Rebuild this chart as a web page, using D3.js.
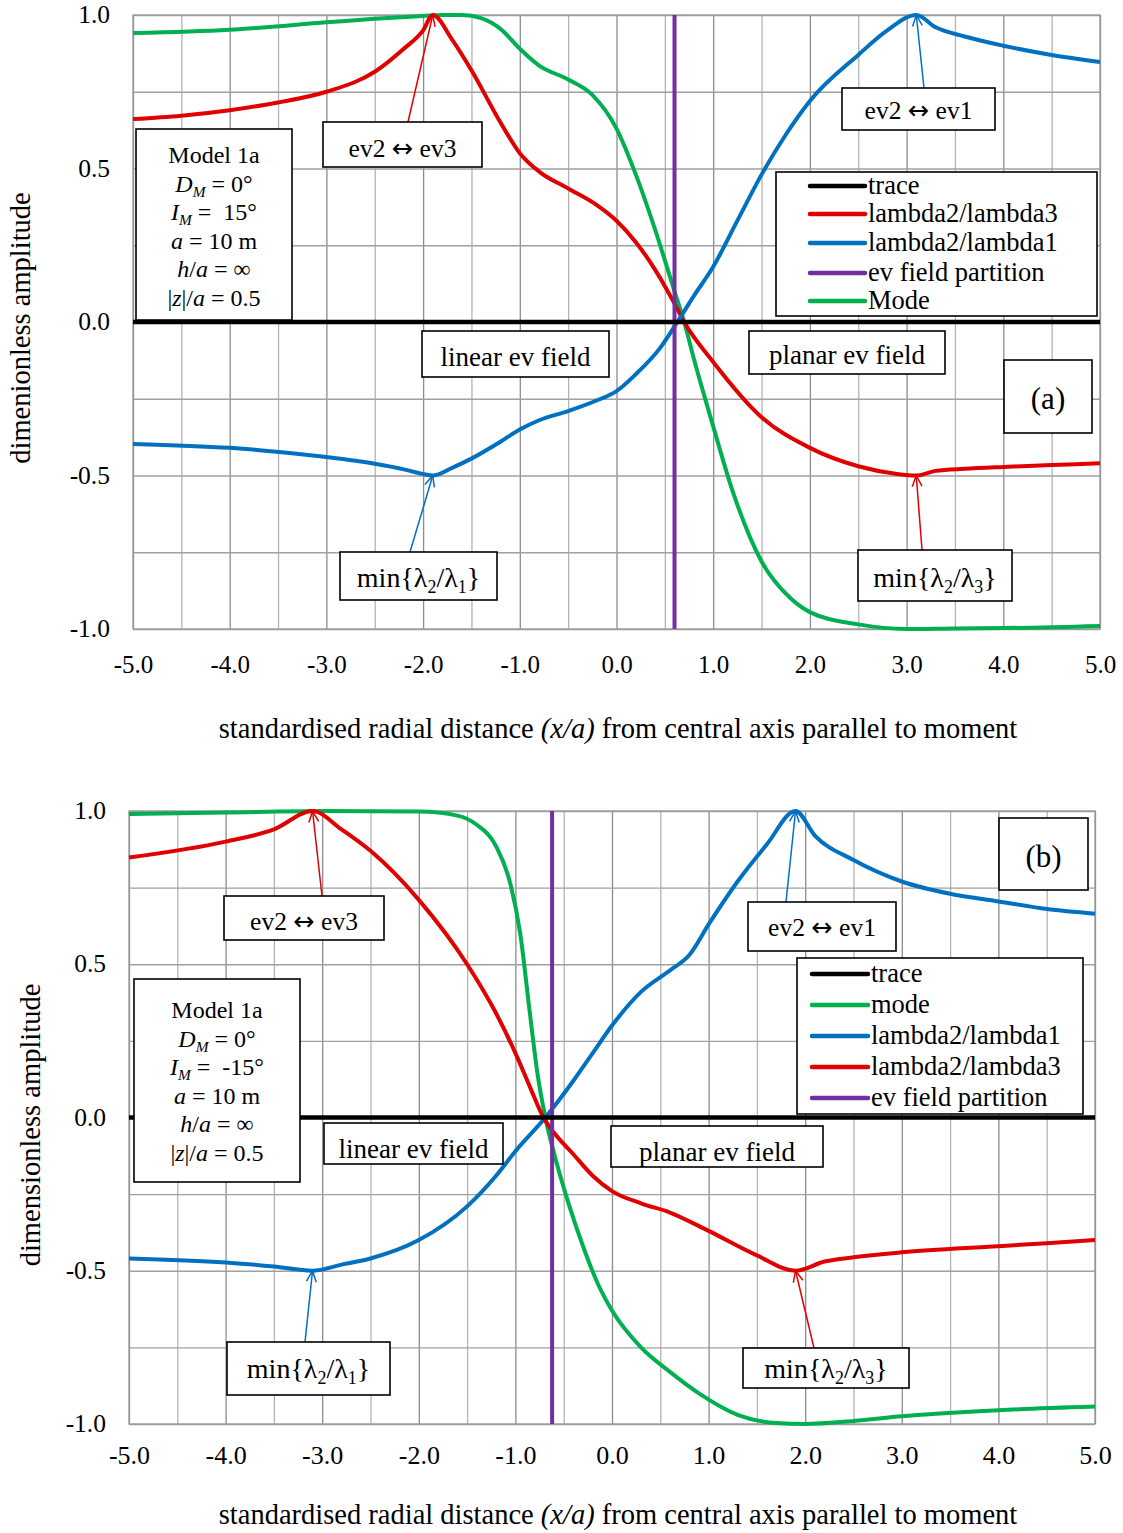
<!DOCTYPE html>
<html>
<head>
<meta charset="utf-8">
<script src="https://cdn.jsdelivr.net/npm/d3@7"></script>
<style>
  body { margin: 0; background: #fff; }
  svg { display: block; }
  text { font-family: "Liberation Serif", "Times New Roman", serif; fill: #000; }
</style>
</head>
<body>
<svg id="chart" width="1123" height="1533"></svg>
<script>
// ---- axis ticks ----
const xTickValues = [-5, -4, -3, -2, -1, 0, 1, 2, 3, 4, 5];
const yTickValues = [-1, -0.5, 0, 0.5, 1];

// ---- panel (a): I_M = 15° ----
const traceA = [[-5, 0], [5, 0]];
const lambda23A = [[-5,0.661],[-4.5,0.672],[-4,0.69],[-3.5,0.715],[-3,0.75],[-2.5,0.815],[-2.2,0.89],[-2.0,0.95],[-1.9,1.0],
  [-1.7,0.92],[-1.5,0.82],[-1.2,0.65],[-1.0,0.55],[-0.8,0.49],[-0.5,0.435],[-0.2,0.38],[0,0.33],[0.2,0.26],[0.4,0.17],
  [0.6,0.06],[0.7,0.0],[1.0,-0.13],[1.5,-0.31],[2.0,-0.41],[2.5,-0.47],[2.9,-0.495],[3.1,-0.5],[3.3,-0.485],[3.6,-0.478],
  [4,-0.472],[4.5,-0.466],[5,-0.46]];
const lambda21A = [[-5,-0.397],[-4,-0.41],[-3,-0.44],[-2.5,-0.462],[-2.2,-0.48],[-2.0,-0.495],[-1.9,-0.5],[-1.7,-0.475],
  [-1.5,-0.445],[-1.2,-0.39],[-1.0,-0.35],[-0.8,-0.32],[-0.5,-0.29],[-0.2,-0.255],[0,-0.225],[0.2,-0.17],[0.45,-0.085],
  [0.63,0.0],[0.8,0.085],[1.0,0.18],[1.25,0.33],[1.5,0.48],[1.75,0.61],[2.0,0.72],[2.5,0.87],[2.8,0.95],[3.1,1.0],
  [3.3,0.96],[3.6,0.93],[4.0,0.9],[4.5,0.87],[5.0,0.847]];
const modeA = [[-5,0.941],[-4,0.952],[-3,0.976],[-2.5,0.988],[-2,0.997],[-1.8,1.0],[-1.6,1.0],[-1.4,0.99],[-1.2,0.955],
  [-1.0,0.89],[-0.8,0.835],[-0.5,0.79],[-0.25,0.74],[0,0.63],[0.2,0.48],[0.4,0.30],[0.6,0.10],[0.7,0.0],[0.8,-0.12],
  [1.0,-0.34],[1.2,-0.55],[1.5,-0.78],[1.8,-0.9],[2.0,-0.945],[2.5,-0.985],[3.0,-1.0],[3.5,-0.998],[4.0,-0.997],[5.0,-0.99]];
const partitionA = 0.6;

// ---- panel (b): I_M = -15° ----
const traceB = [[-5, 0], [5, 0]];
const modeB = [[-5,0.99],[-4,0.995],[-3,1.0],[-2,0.998],[-1.6,0.985],[-1.4,0.955],[-1.2,0.885],[-1.05,0.76],[-0.95,0.6],
  [-0.85,0.34],[-0.77,0.14],[-0.69,0.0],[-0.58,-0.14],[-0.45,-0.28],[-0.3,-0.42],[-0.15,-0.54],[0,-0.63],[0.3,-0.75],
  [0.6,-0.83],[0.9,-0.9],[1.3,-0.97],[1.7,-0.997],[2.0,-1.0],[2.5,-0.99],[3,-0.975],[4,-0.955],[5,-0.943]];
const lambda21B = [[-5,-0.46],[-4,-0.473],[-3.5,-0.486],[-3.1,-0.5],[-2.8,-0.48],[-2.5,-0.46],[-2,-0.40],[-1.5,-0.29],
  [-1.2,-0.19],[-1.0,-0.11],[-0.69,0.0],[-0.4,0.12],[-0.2,0.21],[0,0.3],[0.3,0.41],[0.6,0.48],[0.8,0.53],
  [1.0,0.63],[1.3,0.77],[1.6,0.89],[1.9,1.0],[2.1,0.92],[2.5,0.84],[3,0.77],[3.5,0.73],[4,0.705],[4.5,0.68],[5,0.665]];
const lambda23B = [[-5,0.848],[-4,0.9],[-3.5,0.94],[-3.1,1.0],[-2.8,0.94],[-2.5,0.87],[-2,0.71],[-1.5,0.5],[-1.2,0.34],
  [-1.0,0.21],[-0.85,0.10],[-0.71,0.0],[-0.6,-0.05],[-0.4,-0.12],[-0.2,-0.19],[0,-0.24],[0.3,-0.28],
  [0.6,-0.31],[1.0,-0.37],[1.5,-0.45],[1.9,-0.5],[2.2,-0.47],[2.5,-0.456],[3,-0.44],[4,-0.42],[5,-0.40]];
const partitionB = -0.62;

const COLORS = { trace: "#000000", red: "#e00000", blue: "#0070c0", purple: "#7030a0", green: "#00b050" };
const SERIF = '"Liberation Serif", "Times New Roman", serif';
const NBSP = "\u00a0";

const svg = d3.select("#chart");

// text built from segments: {t, i (italic), sub (subscript), f (font family)}
function richText(g, x, y, segs, size, anchor) {
  const t = g.append("text").attr("x", x).attr("y", y)
    .attr("font-size", size).attr("text-anchor", anchor || "middle");
  let inSub = false;
  segs.forEach(s => {
    const sp = t.append("tspan").text(s.t);
    if (s.i) sp.attr("font-style", "italic");
    if (s.f) sp.attr("font-family", s.f);
    if (s.sub) {
      sp.attr("font-size", size * 0.64);
      if (!inSub) sp.attr("dy", size * 0.22);
      inSub = true;
    } else if (inSub) {
      sp.attr("dy", -size * 0.22);
      inSub = false;
    }
  });
  return t;
}

function box(g, x0, y0, x1, y1) {
  g.append("rect").attr("x", x0).attr("y", y0).attr("width", x1 - x0).attr("height", y1 - y0)
    .attr("fill", "#fff").attr("stroke", "#000").attr("stroke-width", 1.6);
}

function arrow(g, x1, y1, x2, y2, color) {
  g.append("line").attr("x1", x1).attr("y1", y1).attr("x2", x2).attr("y2", y2)
    .attr("stroke", color).attr("stroke-width", 1.5);
  const a = Math.atan2(y2 - y1, x2 - x1), L = 12, w = 0.42;
  const p1 = [x2 - L * Math.cos(a - w), y2 - L * Math.sin(a - w)];
  const p2 = [x2 - L * Math.cos(a + w), y2 - L * Math.sin(a + w)];
  g.append("path").attr("d", `M${p1[0]},${p1[1]}L${x2},${y2}L${p2[0]},${p2[1]}`)
    .attr("fill", "none").attr("stroke", color).attr("stroke-width", 1.5);
}

function drawPanel(cfg) {
  const g = svg.append("g");
  const x = d3.scaleLinear().domain([-5, 5]).range([cfg.left, cfg.right]);
  const y = d3.scaleLinear().domain([-1, 1]).range([cfg.bottom, cfg.top]);
  const h = cfg.bottom - cfg.top, w = cfg.right - cfg.left;

  // grid: every 0.5 in x, every 0.25 in y
  const xGrid = d3.range(-5, 5.001, 0.5);
  const yGrid = d3.range(-1, 1.001, 0.25);
  const gx = g.append("g").attr("transform", `translate(0,${cfg.bottom})`)
    .call(d3.axisBottom(x).tickValues(xGrid).tickSize(-h).tickFormat(""));
  const gy = g.append("g").attr("transform", `translate(${cfg.left},0)`)
    .call(d3.axisLeft(y).tickValues(yGrid).tickSize(-w).tickFormat(""));
  gx.select(".domain").remove();
  gy.select(".domain").remove();
  gx.selectAll(".tick line")
    .attr("stroke", d => Math.abs(d - Math.round(d)) < 1e-6 ? "#8c8c8c" : "#b4b4b4")
    .attr("stroke-width", 1.3);
  gy.selectAll(".tick line").attr("stroke", "#a0a0a0").attr("stroke-width", 1.3);
  g.append("rect").attr("x", cfg.left).attr("y", cfg.top).attr("width", w).attr("height", h)
    .attr("fill", "none").attr("stroke", "#9a9a9a").attr("stroke-width", 1.3);

  // tick labels
  const fmt = d => d3.format(".1f")(d).replace("−", "-");
  const xl = g.append("g").attr("transform", `translate(0,${cfg.bottom + cfg.xLabelOffset})`)
    .call(d3.axisBottom(x).tickValues(xTickValues).tickSize(0).tickPadding(0).tickFormat(fmt));
  xl.select(".domain").remove();
  xl.selectAll("text").attr("font-family", cfg.xTickFont).attr("font-size", cfg.xTickSize)
    .attr("fill", "#000").attr("dy", "0.35em").attr("y", 0);
  const yl = g.append("g").attr("transform", `translate(${cfg.left - 23},0)`)
    .call(d3.axisLeft(y).tickValues(yTickValues).tickSize(0).tickPadding(0).tickFormat(fmt));
  yl.select(".domain").remove();
  yl.selectAll("text").attr("font-family", SERIF).attr("font-size", 25.5).attr("fill", "#000").attr("dy", "0.3em");

  // axis titles
  g.append("text").attr("x", 618).attr("y", cfg.xTitleY).attr("text-anchor", "middle").attr("font-size", 28.5)
    .call(t => {
      t.append("tspan").text("standardised radial distance ");
      t.append("tspan").attr("font-style", "italic").text("(x/a)");
      t.append("tspan").text(" from central axis parallel to moment");
    });
  g.append("text").attr("transform", `translate(${cfg.yTitleX},${cfg.yTitleY}) rotate(-90)`)
    .attr("text-anchor", "middle").attr("font-size", 28.5).text(cfg.yTitle);

  // series
  const line = d3.line().x(d => x(d[0])).y(d => y(d[1])).curve(d3.curveMonotoneX);
  cfg.series.forEach(s => {
    g.append("path").datum(s.data).attr("d", line).attr("fill", "none")
      .attr("stroke", s.color).attr("stroke-width", 4).attr("stroke-linejoin", "round");
  });
  g.append("line").attr("x1", x(cfg.partition)).attr("x2", x(cfg.partition))
    .attr("y1", y(1)).attr("y2", y(-1)).attr("stroke", COLORS.purple).attr("stroke-width", 4);
  g.append("path").datum(cfg.trace).attr("d", line).attr("fill", "none")
    .attr("stroke", COLORS.trace).attr("stroke-width", 4.5);

  return { g, x, y };
}

// ---------- panel (a) ----------
const A = drawPanel({
  left: 133, right: 1100, top: 15, bottom: 629,
  xLabelOffset: 35, xTickFont: '"Noto Sans", "Open Sans", sans-serif', xTickSize: 25,
  xTitleY: 738, yTitleX: 30, yTitleY: 328, yTitle: "dimenionless amplitude",
  series: [
    { data: modeA, color: COLORS.green },
    { data: lambda23A, color: COLORS.red },
    { data: lambda21A, color: COLORS.blue }
  ],
  partition: partitionA, trace: traceA
});

// ---------- panel (b) ----------
const B = drawPanel({
  left: 129, right: 1095, top: 811, bottom: 1424,
  xLabelOffset: 31, xTickFont: SERIF, xTickSize: 26,
  xTitleY: 1524, yTitleX: 40, yTitleY: 1125, yTitle: "dimensionless amplitude",
  series: [
    { data: modeB, color: COLORS.green },
    { data: lambda21B, color: COLORS.blue },
    { data: lambda23B, color: COLORS.red }
  ],
  partition: partitionB, trace: traceB
});

// ---------- annotations ----------
function modelBox(g, x0, y0, x1, y1, cx, firstY, incl) {
  box(g, x0, y0, x1, y1);
  const lines = [
    [{ t: "Model 1a" }],
    [{ t: "D", i: true }, { t: "M", i: true, sub: true }, { t: " = 0°" }],
    [{ t: "I", i: true }, { t: "M", i: true, sub: true }, { t: " =" + NBSP + NBSP + incl + "°" }],
    [{ t: "a", i: true }, { t: " = 10 m" }],
    [{ t: "h", i: true }, { t: "/" }, { t: "a", i: true }, { t: " = ∞" }],
    [{ t: "|" }, { t: "z", i: true }, { t: "|/" }, { t: "a", i: true }, { t: " = 0.5" }]
  ];
  lines.forEach((segs, k) => richText(g, cx, firstY + k * 28.6, segs, 24, "middle"));
}

function labelBox(g, x0, y0, x1, y1, segs, size, ty) {
  box(g, x0, y0, x1, y1);
  richText(g, (x0 + x1) / 2, ty, segs, size, "middle");
}

function legend(g, x0, y0, x1, y1, items, rowY, lx0, lx1) {
  box(g, x0, y0, x1, y1);
  items.forEach((it, k) => {
    g.append("line").attr("x1", lx0).attr("x2", lx1).attr("y1", rowY[k]).attr("y2", rowY[k])
      .attr("stroke", it.color).attr("stroke-width", 4.5).attr("stroke-linecap", "round");
    g.append("text").attr("x", lx1 + 3).attr("y", rowY[k] + 8).attr("font-size", 26.5).text(it.label);
  });
}

const minL1 = [{ t: "min{λ" }, { t: "2", sub: true }, { t: "/λ" }, { t: "1", sub: true }, { t: "}" }];
const minL3 = [{ t: "min{λ" }, { t: "2", sub: true }, { t: "/λ" }, { t: "3", sub: true }, { t: "}" }];
const swap = (a, b) => [{ t: a + " " }, { t: "↔", f: '"DejaVu Sans", sans-serif' }, { t: " " + b }];

// panel (a) annotations
(function () {
  const { g, x, y } = A;
  arrow(g, 408, 122, x(-1.9), y(1), COLORS.red);
  arrow(g, 924, 88, x(3.1), y(1), COLORS.blue);
  arrow(g, 410, 552, x(-1.9), y(-0.5), COLORS.blue);
  arrow(g, 922, 550, x(3.1), y(-0.5), COLORS.red);
  modelBox(g, 136, 129, 292, 320, 214, 163, "15");
  labelBox(g, 323, 122, 482, 167, swap("ev2", "ev3"), 25.5, 157);
  labelBox(g, 842, 88, 995, 130, swap("ev2", "ev1"), 25.5, 119);
  labelBox(g, 422, 331, 609, 377, [{ t: "linear ev field" }], 27, 366);
  labelBox(g, 749, 331, 945, 374, [{ t: "planar ev field" }], 27, 364);
  labelBox(g, 1004, 360, 1092, 433, [{ t: "(a)" }], 31, 409);
  labelBox(g, 340, 552, 497, 600, minL1, 28, 587);
  labelBox(g, 858, 550, 1012, 601, minL3, 28, 587);
  legend(g, 776, 172, 1097, 316, [
    { label: "trace", color: COLORS.trace },
    { label: "lambda2/lambda3", color: COLORS.red },
    { label: "lambda2/lambda1", color: COLORS.blue },
    { label: "ev field partition", color: COLORS.purple },
    { label: "Mode", color: COLORS.green }
  ], [186, 214, 243, 273, 301], 810, 865);
})();

// panel (b) annotations
(function () {
  const { g, x, y } = B;
  arrow(g, 322, 896, x(-3.1), y(1), COLORS.red);
  arrow(g, 786, 902, x(1.9), y(1), COLORS.blue);
  arrow(g, 305, 1342, x(-3.1), y(-0.5), COLORS.blue);
  arrow(g, 814, 1348, x(1.9), y(-0.5), COLORS.red);
  modelBox(g, 134, 979, 300, 1182, 217, 1018, "-15");
  labelBox(g, 224, 896, 384, 940, swap("ev2", "ev3"), 25.5, 930);
  labelBox(g, 748, 902, 896, 951, swap("ev2", "ev1"), 25.5, 936);
  labelBox(g, 324, 1123, 503, 1164, [{ t: "linear ev field" }], 27, 1158);
  labelBox(g, 611, 1126, 823, 1167, [{ t: "planar ev field" }], 27, 1161);
  labelBox(g, 999, 818, 1088, 890, [{ t: "(b)" }], 31, 867);
  labelBox(g, 227, 1342, 390, 1395, minL1, 28, 1378);
  labelBox(g, 743, 1348, 909, 1388, minL3, 28, 1378);
  legend(g, 797, 958, 1083, 1114, [
    { label: "trace", color: COLORS.trace },
    { label: "mode", color: COLORS.green },
    { label: "lambda2/lambda1", color: COLORS.blue },
    { label: "lambda2/lambda3", color: COLORS.red },
    { label: "ev field partition", color: COLORS.purple }
  ], [974, 1005, 1036, 1067, 1098], 812, 868);
})();
</script>
</body>
</html>
